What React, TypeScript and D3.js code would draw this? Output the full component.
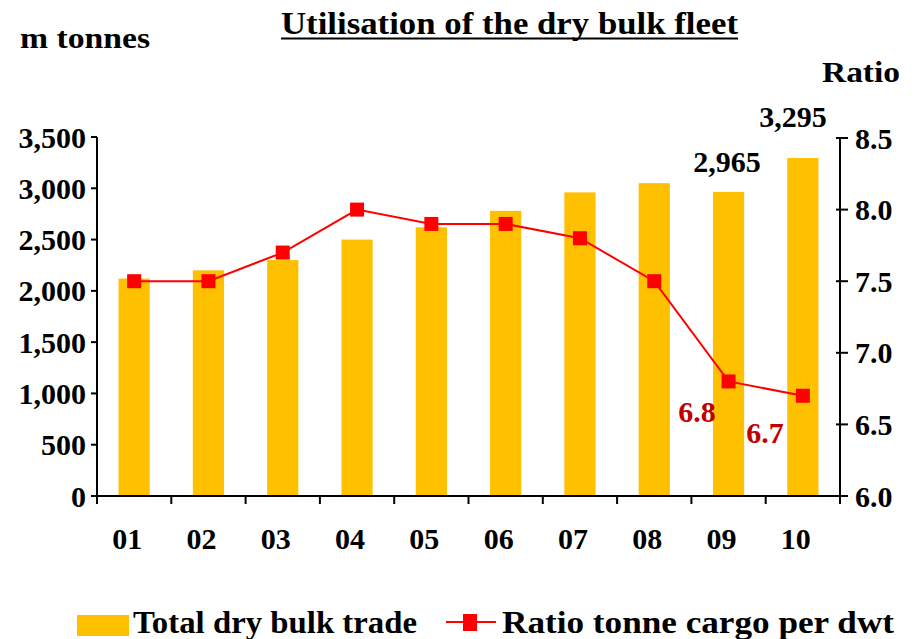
import React from "react";
import * as d3 from "d3";

const years = ["01", "02", "03", "04", "05", "06", "07", "08", "09", "10"];
const trade = [2120, 2200, 2300, 2500, 2620, 2780, 2960, 3050, 2965, 3295];
const ratio = [7.5, 7.5, 7.7, 8.0, 7.9, 7.9, 7.8, 7.5, 6.8, 6.7];
const leftTicks = [0, 500, 1000, 1500, 2000, 2500, 3000, 3500];
const rightTicks = [6.0, 6.5, 7.0, 7.5, 8.0, 8.5];

const W = 915;
const H = 639;
const FONT = "Liberation Serif";

const T = (props: any) => <text fontFamily={FONT} fontWeight="bold" {...props} />;

const App = () => {
  const left = 97;
  const right = 840;
  const top = 137;
  const bottom = 496;

  const x = d3.scaleBand().domain(years).range([left, right]).paddingInner(0.58).paddingOuter(0.29);
  const band = d3.scaleBand().domain(years).range([left, right]);
  const y = d3.scaleLinear().domain([0, 3500]).range([bottom, top]);
  const y2 = d3.scaleLinear().domain([6, 8.5]).range([bottom, top + 1]);

  const cx = (i: number) => band(years[i])! + band.bandwidth() / 2;
  const line = d3
    .line<number>()
    .x((d, i) => cx(i))
    .y((d) => y2(d));

  const fmt = d3.format(",");

  return (
    <svg width={W} height={H} style={{ position: "fixed", left: 0, top: 0, background: "#fff" }}>
      {/* titles */}
      <T x={281} y={34} fontSize={31} textLength={457} lengthAdjust="spacingAndGlyphs">
        Utilisation of the dry bulk fleet
      </T>
      <line x1={281} x2={738} y1={38.5} y2={38.5} stroke="#000" strokeWidth={2} />
      <T x={20} y={48} fontSize={30} textLength={130} lengthAdjust="spacingAndGlyphs">m tonnes</T>
      <T x={822} y={82} fontSize={30} textLength={78} lengthAdjust="spacingAndGlyphs">Ratio</T>

      {/* bars */}
      {trade.map((v, i) => (
        <rect key={i} x={x(years[i])} y={y(v)} width={x.bandwidth()} height={bottom - y(v)} fill="#FFC000" />
      ))}

      {/* left axis */}
      <line x1={left} x2={left} y1={top} y2={bottom} stroke="#000" strokeWidth={2} />
      {leftTicks.map((t) => (
        <g key={t}>
          <line x1={left - 6} x2={left} y1={y(t)} y2={y(t)} stroke="#000" strokeWidth={2} />
          <T x={86} y={y(t)} dy="0.35em" fontSize={30} textAnchor="end">{fmt(t)}</T>
        </g>
      ))}

      {/* right axis */}
      <line x1={right} x2={right} y1={top} y2={bottom} stroke="#000" strokeWidth={2} />
      {rightTicks.map((t) => (
        <g key={t}>
          <line x1={right - 4} x2={right + 8} y1={y2(t)} y2={y2(t)} stroke="#000" strokeWidth={2} />
          <T x={855} y={y2(t)} dy="0.35em" fontSize={30}>{t.toFixed(1)}</T>
        </g>
      ))}

      {/* x axis */}
      <line x1={left} x2={right} y1={bottom} y2={bottom} stroke="#000" strokeWidth={2} />
      {[...years.map((yr) => band(yr)!), right].map((p, i) => (
        <line key={i} x1={p} x2={p} y1={bottom} y2={bottom + 8} stroke="#000" strokeWidth={2} />
      ))}
      {years.map((yr, i) => (
        <T key={yr} x={cx(i) - 7} y={549} fontSize={30} textAnchor="middle">{yr}</T>
      ))}

      {/* ratio line */}
      <path d={line(ratio)!} fill="none" stroke="#FF0000" strokeWidth={2} />
      {ratio.map((v, i) => (
        <rect key={i} x={cx(i) - 7} y={y2(v) - 7} width={14} height={14} fill="#FF0000" />
      ))}

      {/* value labels */}
      <T x={727} y={172} fontSize={30} textAnchor="middle">{fmt(trade[8])}</T>
      <T x={793} y={127} fontSize={30} textAnchor="middle">{fmt(trade[9])}</T>
      <T x={697} y={422} fontSize={30} textAnchor="middle" fill="#C00000">{ratio[8].toFixed(1)}</T>
      <T x={765} y={443} fontSize={30} textAnchor="middle" fill="#C00000">{ratio[9].toFixed(1)}</T>

      {/* legend */}
      <rect x={77} y={615} width={52} height={21} fill="#FFC000" />
      <T x={133} y={633} fontSize={31} textLength={284} lengthAdjust="spacingAndGlyphs">Total dry bulk trade</T>
      <line x1={446} x2={496} y1={622} y2={622} stroke="#FF0000" strokeWidth={2} />
      <rect x={463} y={614} width={14} height={17} fill="#FF0000" />
      <T x={502} y={633} fontSize={31} textLength={392} lengthAdjust="spacingAndGlyphs">Ratio tonne cargo per dwt</T>
    </svg>
  );
};

export default App;
